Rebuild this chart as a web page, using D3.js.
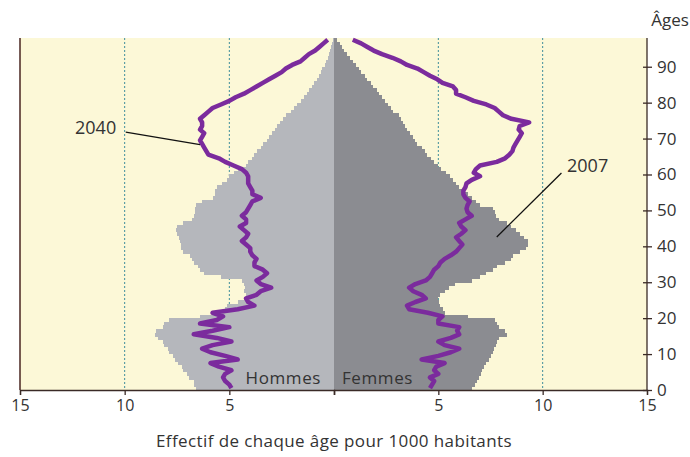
<!DOCTYPE html>
<html>
<head>
<meta charset="utf-8">
<title>Pyramide des âges</title>
<style>
body { margin: 0; background: #fff; }
text { font-family: "Open Sans", Lato, sans-serif; fill: #333; }
.grid line { stroke: #3f8e9c; stroke-width: 1px; stroke-dasharray: 2,2; }
.axis path, .axis line { stroke: #3a2a26; stroke-width: 1.3px; }
.axis text { font-family: "Open Sans", sans-serif; font-size: 16px; fill: #333; }
path.pop { fill: none; stroke: #7b2b9d; stroke-width: 4.5px; stroke-linejoin: round; }
</style>
</head>
<body>
<script src="https://cdn.jsdelivr.net/npm/d3@7"></script>
<script>

// ages 0..97, effectif pour 1000 habitants
var hommes2007 = [6.6,6.7,6.7,6.95,7.0,7.2,7.25,7.45,7.6,7.7,
  7.9,7.95,8.1,8.15,8.4,8.55,8.5,8.15,8.1,7.9,
  6.4,5.6,5.2,5.1,4.6,4.3,4.2,4.3,4.25,4.3,
  4.4,5.4,6.2,6.4,6.5,6.7,6.8,6.9,7.2,7.3,
  7.3,7.35,7.4,7.5,7.55,7.5,7.2,6.8,6.7,6.65,
  6.65,6.6,6.3,5.8,5.7,5.7,5.6,5.35,5.1,5.0,
  4.8,4.6,4.2,4.1,3.9,3.8,3.7,3.5,3.4,3.2,
  3.1,2.95,2.8,2.7,2.6,2.45,2.3,2.05,1.9,1.75,
  1.6,1.45,1.3,1.2,1.05,0.95,0.8,0.7,0.6,0.55,
  0.45,0.38,0.3,0.25,0.2,0.15,0.1,0.06];

var femmes2007 = [6.6,6.75,6.85,6.95,7.05,7.1,7.2,7.3,7.45,7.5,
  7.6,7.65,7.75,7.8,7.9,8.3,8.2,7.9,7.8,7.7,
  6.4,5.3,5.2,5.1,5.05,5.0,5.1,5.3,5.5,5.8,
  6.6,7.0,7.3,7.6,7.8,8.2,8.5,8.6,8.9,9.2,
  9.3,9.3,9.1,8.9,8.7,8.5,8.3,7.9,7.75,7.7,
  7.6,7.0,6.8,6.6,6.4,6.2,6.0,5.85,5.7,5.55,
  5.35,5.15,5.0,4.8,4.65,4.45,4.35,4.2,4.0,3.9,
  3.8,3.65,3.5,3.4,3.3,3.2,3.1,2.85,2.75,2.6,
  2.45,2.3,2.15,2.05,1.85,1.75,1.6,1.5,1.3,1.2,
  1.05,0.9,0.75,0.6,0.5,0.4,0.3,0.15];

var hommes2040 = [4.9,5.0,5.2,5.3,5.2,4.9,5.5,5.9,4.6,5.2,
  5.9,6.3,5.8,4.9,5.6,6.7,5.8,5.0,6.4,5.6,
  5.3,5.8,4.6,3.8,4.1,4.2,3.7,3.5,3.0,3.5,
  3.7,3.4,3.2,3.4,3.8,3.8,3.7,3.9,4.0,4.0,
  4.2,4.4,4.2,4.1,4.3,4.5,4.2,4.2,4.4,4.2,
  4.1,4.0,3.9,3.5,3.9,3.9,4.0,4.1,4.1,4.1,
  4.2,4.4,4.8,5.2,5.5,6.0,6.1,6.2,6.3,6.4,
  6.3,6.2,6.4,6.3,6.3,6.4,6.2,6.0,5.8,5.4,
  5.0,4.7,4.3,4.0,3.7,3.4,3.1,2.8,2.5,2.3,
  2.0,1.6,1.4,1.2,0.9,0.7,0.5,0.3];

var femmes2040 = [4.6,4.7,4.8,4.6,5.0,4.8,4.9,5.3,4.2,5.0,
  5.6,6.0,5.3,5.0,5.6,6.0,5.9,6.0,5.0,5.0,
  5.2,4.5,3.6,3.5,3.9,4.4,4.2,3.8,3.6,3.9,
  4.4,4.6,4.7,4.8,5.0,5.1,5.3,5.6,5.85,6.0,
  6.15,6.0,5.85,6.1,6.3,6.1,6.0,6.3,6.6,6.4,
  6.35,6.4,6.5,6.3,6.2,6.2,6.3,6.35,6.6,7.0,
  6.7,6.8,7.0,7.8,8.2,8.4,8.55,8.6,8.7,8.8,
  8.9,9.0,8.85,8.9,9.35,8.5,8.1,7.9,7.7,7.3,
  6.7,6.3,5.85,5.85,5.7,5.2,4.95,4.6,4.3,4.0,
  3.5,3.2,2.8,2.3,1.9,1.6,1.3,0.9];

var ageTicks = [0,10,20,30,40,50,60,70,80,90];
var gridValues = [5,10];

(function() {

var width = 690,
    height = 457;

var left = 20, center = 334, right = 647,
    plotTop = 38, plotBottom = 390;

var svg = d3.select("body").append("svg")
    .attr("width", width)
    .attr("height", height);

var xL = d3.scaleLinear().domain([15, 0]).range([left, center]);
var xR = d3.scaleLinear().domain([0, 15]).range([center, right]);
var y = d3.scaleLinear().domain([0, 98]).range([plotBottom, plotTop]);

// background
svg.append("rect")
    .attr("x", left)
    .attr("y", plotTop)
    .attr("width", right - left)
    .attr("height", plotBottom - plotTop)
    .attr("fill", "#fcf8d7");

// gridlines
var grid = svg.append("g").attr("class", "grid");
grid.selectAll("line.l")
    .data(gridValues)
    .enter().append("line")
    .attr("class", "l")
    .attr("x1", function(d) { return xL(d); })
    .attr("x2", function(d) { return xL(d); })
    .attr("y1", plotTop).attr("y2", plotBottom);
grid.selectAll("line.r")
    .data(gridValues)
    .enter().append("line")
    .attr("class", "r")
    .attr("x1", function(d) { return xR(d); })
    .attr("x2", function(d) { return xR(d); })
    .attr("y1", plotTop).attr("y2", plotBottom);

// bars 2007
svg.append("g")
    .selectAll("rect")
    .data(hommes2007)
    .enter().append("rect")
    .attr("x", function(d) { return xL(d); })
    .attr("y", function(d, i) { return y(i + 1); })
    .attr("width", function(d) { return center - xL(d); })
    .attr("height", function(d, i) { return y(i) - y(i + 1) + 0.4; })
    .attr("fill", "#b5b7bc")
    .attr("shape-rendering", "crispEdges");

svg.append("g")
    .selectAll("rect")
    .data(femmes2007)
    .enter().append("rect")
    .attr("x", center)
    .attr("y", function(d, i) { return y(i + 1); })
    .attr("width", function(d) { return xR(d) - center; })
    .attr("height", function(d, i) { return y(i) - y(i + 1) + 0.4; })
    .attr("fill", "#8b8c91")
    .attr("shape-rendering", "crispEdges");

// lines 2040
var lineL = d3.line()
    .x(function(d) { return xL(d); })
    .y(function(d, i) { return y(i + 0.5); });
var lineR = d3.line()
    .x(function(d) { return xR(d); })
    .y(function(d, i) { return y(i + 0.5); });

svg.append("path").datum(hommes2040).attr("class", "pop").attr("d", lineL);
svg.append("path").datum(femmes2040).attr("class", "pop").attr("d", lineR);

// axes
svg.append("g")
    .attr("class", "axis")
    .attr("transform", "translate(0," + plotBottom + ")")
    .call(d3.axisBottom(xL).tickValues([15, 10, 5, 0]).tickSize(5).tickPadding(5)
      .tickFormat(function(d) { return d == 0 ? "" : d; }));
svg.append("g")
    .attr("class", "axis")
    .attr("transform", "translate(0," + plotBottom + ")")
    .call(d3.axisBottom(xR).tickValues([5, 10, 15]).tickSize(5).tickPadding(5));

svg.append("line")
    .attr("x1", left).attr("x2", left)
    .attr("y1", plotTop).attr("y2", plotBottom)
    .attr("stroke", "#4a2620").attr("stroke-width", 1.5);

var yAxis = svg.append("g")
    .attr("class", "axis")
    .attr("transform", "translate(" + right + ",0)")
    .call(d3.axisRight(y).tickValues(ageTicks).tickSize(5).tickPadding(5).tickSizeOuter(0));
yAxis.select(".domain").attr("d", "M0," + plotTop + "V" + plotBottom);
yAxis.selectAll(".tick line").attr("x1", -4);
yAxis.selectAll(".tick text").style("font-size", "17px");

svg.append("text")
    .attr("x", 670).attr("y", 26)
    .attr("text-anchor", "middle")
    .style("font-size", "17px")
    .text("Âges");

// labels
svg.append("text")
    .attr("x", 321).attr("y", 384)
    .attr("text-anchor", "end")
    .style("font-size", "17px")
    .style("letter-spacing", "0.6px")
    .text("Hommes");
svg.append("text")
    .attr("x", 342).attr("y", 384)
    .style("font-size", "17px")
    .style("letter-spacing", "0.6px")
    .text("Femmes");

svg.append("text")
    .attr("x", center).attr("y", 447)
    .attr("text-anchor", "middle")
    .style("font-size", "17px")
    .style("letter-spacing", "0.4px")
    .text("Effectif de chaque âge pour 1000 habitants");

// annotations
svg.append("text")
    .attr("x", 75).attr("y", 134)
    .style("font-size", "18px")
    .text("2040");
svg.append("line")
    .attr("x1", xL(9.95)).attr("y1", y(71.8))
    .attr("x2", xL(6.4)).attr("y2", y(68.3))
    .attr("stroke", "#111").attr("stroke-width", 1.3);

svg.append("text")
    .attr("x", 567).attr("y", 172)
    .style("font-size", "18px")
    .text("2007");
svg.append("line")
    .attr("x1", xR(10.9)).attr("y1", y(60.4))
    .attr("x2", xR(7.8)).attr("y2", y(42.6))
    .attr("stroke", "#111").attr("stroke-width", 1.3);

})();

</script>
</body>
</html>
